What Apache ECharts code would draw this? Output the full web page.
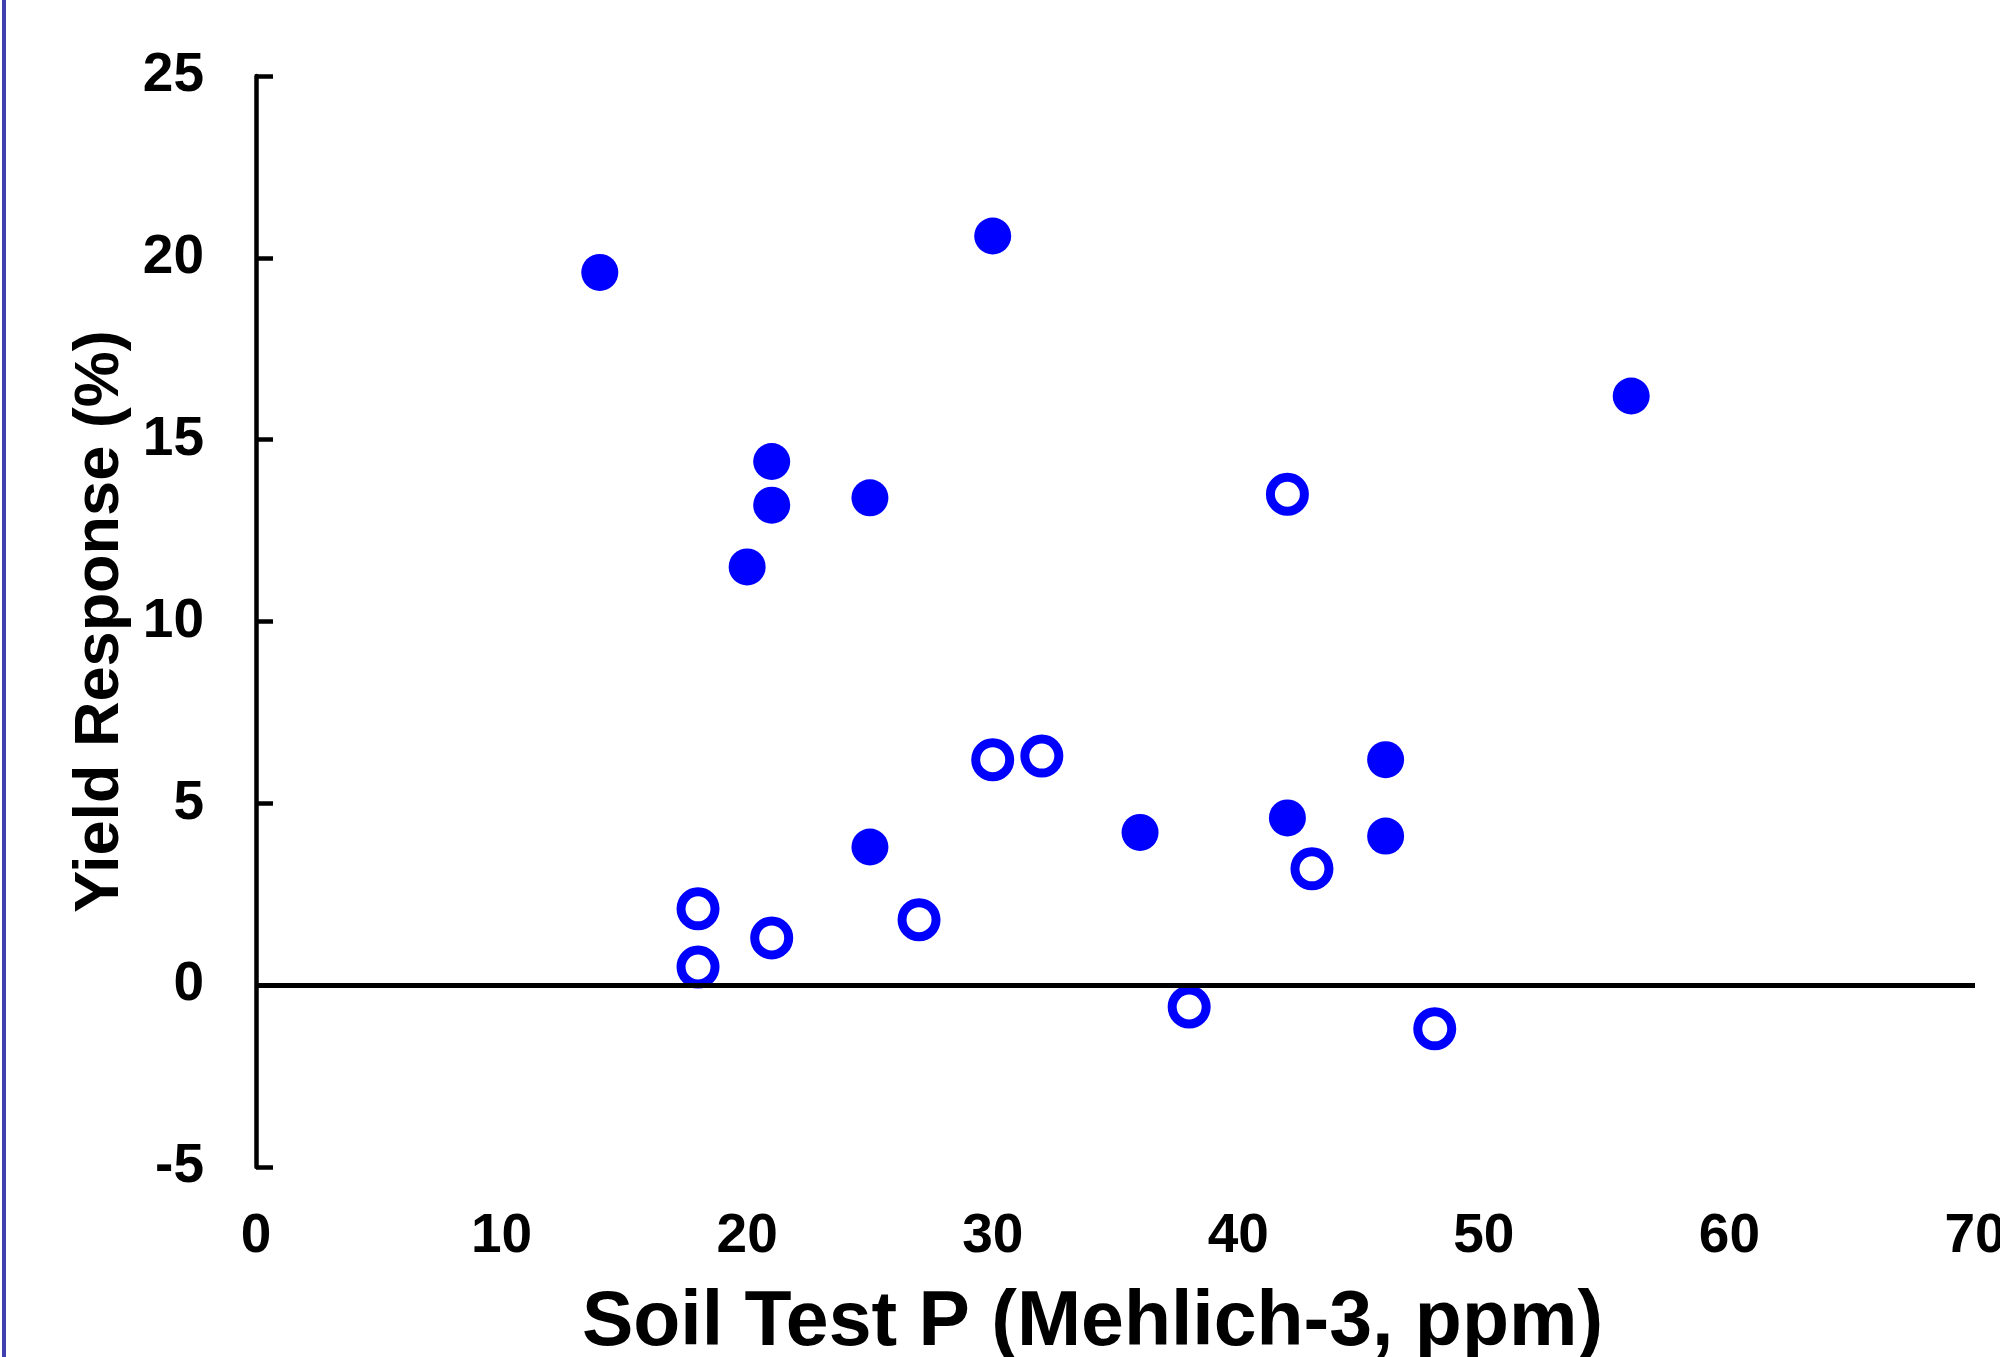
<!DOCTYPE html>
<html>
<head>
<meta charset="utf-8">
<title>Yield Response vs Soil Test P</title>
<script src="https://cdn.jsdelivr.net/npm/echarts@6/dist/echarts.min.js"></script>
<style>
html, body {
    margin: 0;
    padding: 0;
    background: #fff;
}
.page {
    position: relative;
    width: 2000px;
    height: 1357px;
}
/* blue-ish rule down the left side of the slide */
.left-rule {
    position: absolute;
    left: 2px;
    top: 0;
    width: 4px;
    height: 1357px;
    background: #3f3fb0;
    z-index: 2;
}
#chart {
    width: 2000px;
    height: 1357px;
}
</style>
</head>
<body>
<div class="page">
    <div class="left-rule"></div>
    <div id="chart"></div>
</div>
<script>
// filled circles: soil test P (ppm), yield response (%)
const filledP = [14, 30, 56, 21, 21, 25, 20, 25, 36, 42, 46, 46];
const filledYield = [19.6, 20.6, 16.2, 14.4, 13.2, 13.4, 11.5, 3.8, 4.2, 4.6, 6.2, 4.1];

// open circles
const openP = [42, 30, 32, 18, 18, 21, 27, 43, 38, 48];
const openYield = [13.5, 6.2, 6.3, 2.1, 0.5, 1.3, 1.8, 3.2, -0.6, -1.2];

const xTicks = [0, 10, 20, 30, 40, 50, 60, 70];
const yTicks = [-5, 0, 5, 10, 15, 20, 25];

const xTitle = "Soil Test P (Mehlich-3, ppm)";
const yTitle = "Yield Response (%)";

const FONT = "'Liberation Sans', Arial, Helvetica, sans-serif";
const BLUE = "#0000ff";

const chart = echarts.init(document.getElementById("chart"), null, {renderer: "canvas"});

const option = {
    backgroundColor: "#fff",
    animation: false,
    grid: {
        left: 256,
        right: 25,
        top: 76,
        bottom: 190,
        containLabel: false,
        // keep the plot area fixed, labels may hang over the edge
        outerBoundsMode: "none"
    },
    xAxis: {
        type: "value",
        min: xTicks[0],
        max: xTicks[xTicks.length - 1],
        interval: 10,
        name: xTitle,
        nameLocation: "middle",
        nameGap: 118,
        nameTextStyle: {
            fontFamily: FONT,
            fontWeight: "bold",
            fontSize: 77,
            color: "#000",
            padding: [0, 46, 0, 0]
        },
        axisLine: {show: false},
        axisTick: {show: false},
        splitLine: {show: false},
        axisLabel: {
            margin: 42,
            fontFamily: FONT,
            fontWeight: "bold",
            fontSize: 55,
            color: "#000",
            showMaxLabel: true,
            showMinLabel: true
        }
    },
    yAxis: {
        type: "value",
        min: yTicks[0],
        max: yTicks[yTicks.length - 1],
        interval: 5,
        name: yTitle,
        nameLocation: "middle",
        nameRotate: 90,
        nameGap: 115,
        nameTextStyle: {
            fontFamily: FONT,
            fontWeight: "bold",
            fontSize: 63,
            color: "#000"
        },
        axisLine: {
            show: true,
            onZero: false,
            lineStyle: {color: "#000", width: 4.5}
        },
        axisTick: {
            show: true,
            inside: true,
            length: 17,
            lineStyle: {color: "#000", width: 4.5}
        },
        splitLine: {show: false},
        axisLabel: {
            margin: 52,
            fontFamily: FONT,
            fontWeight: "bold",
            fontSize: 55,
            color: "#000"
        }
    },
    series: [
        {
            name: "filled",
            type: "scatter",
            symbol: "circle",
            symbolSize: 37,
            itemStyle: {color: BLUE, opacity: 1},
            data: filledP.map((p, i) => [p, filledYield[i]]),
            z: 3,
            // horizontal line at zero response
            markLine: {
                silent: true,
                symbol: "none",
                label: {show: false},
                lineStyle: {color: "#000", width: 5, type: "solid"},
                data: [[
                    {coord: [xTicks[0], 0]},
                    {coord: [xTicks[xTicks.length - 1], 0]}
                ]]
            }
        },
        {
            name: "open",
            type: "scatter",
            symbol: "circle",
            symbolSize: 34,
            itemStyle: {
                color: "#fff",
                borderColor: BLUE,
                borderWidth: 9,
                opacity: 1
            },
            data: openP.map((p, i) => [p, openYield[i]]),
            z: 4
        }
    ]
};

chart.setOption(option);
</script>
</body>
</html>
